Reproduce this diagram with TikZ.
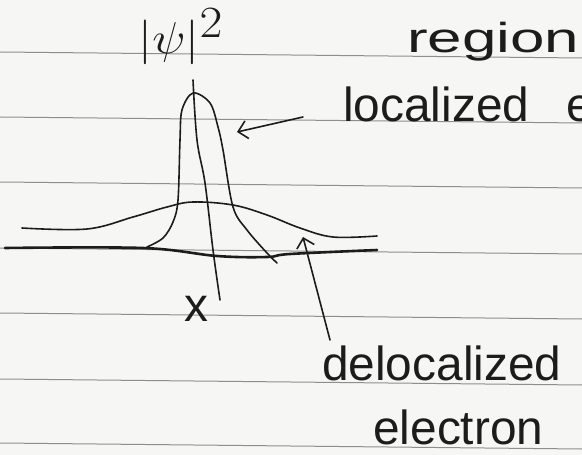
\documentclass[tikz,border=0pt]{standalone}
\usepackage{fontspec}
\setmainfont{Liberation Sans}
\usepackage{amsmath}
\usetikzlibrary{arrows.meta, positioning}
\definecolor{ink}{HTML}{1C1C1C}
\definecolor{paper}{HTML}{F6F6F4}
\definecolor{ruling}{HTML}{8E8E8E}

\tikzset{
  hand/.style={anchor=base west, inner sep=0pt, text=ink},
  curve/.style={draw=ink, line width=1.6bp, line cap=round, line join=round}
}

\begin{document}
\begin{tikzpicture}[x=1bp, y=-1bp, >={Straight Barb[length=9bp, width=18bp]}, font=\fontsize{48}{52}\selectfont]
  % paper and ruled lines
  \useasboundingbox (0,0) rectangle (582,455);
  \clip (0,0) rectangle (582,455);
  \fill[paper] (0,0) rectangle (582,455);
  \foreach \y in {52,117,182,248,313,379,443}
    \draw[ruling, line width=1bp] (0,\y) -- (582,\y+6);

  % labels
  \node[inner sep=0pt, text=ink] (psi) at (181,37) {\scalebox{2}[1.8]{$|\psi|^2$}};
  \node[hand, font=\fontsize{42}{46}\selectfont] (region) at (407,53) {\scalebox{1.48}[1]{region}};
  \node[hand] (loc) at (343,122) {localized\hspace{37bp}e};
  \node[hand] (deloc) at (322,380) {delocalized};
  \node[hand] (elec) at (373,444) {electron};
  \node[inner sep=0pt, anchor=base, text=ink] (xpos) at (196,321) {x};

  % axis
  \draw[curve, line width=2.6bp] plot[smooth, tension=0.6] coordinates
    {(5,248) (143,248) (217,256) (267,257) (290,254) (377,250)};

  % delocalized electron
  \draw[curve] plot[smooth, tension=0.6] coordinates
    {(22,228) (87,229) (133,217) (167,207) (193,202) (233,205) (267,215) (300,228) (333,237) (377,236)};

  % localized electron
  \draw[curve] plot[smooth, tension=0.55] coordinates
    {(147,247) (163,238) (173,222) (178,200) (180,140) (182,110) (193,93) (210,103) (218,127) (223,150) (233,207) (247,230) (267,253) (277,263)};

  % position marker
  \draw[curve] plot[smooth, tension=0.6] coordinates
    {(193,80) (197,140) (205,183) (213,250) (220,300)};

  % arrows
  \coordinate (loctail) at (303,117);
  \coordinate (lochead) at (237,132);
  \coordinate (deloctail) at (330,340);
  \coordinate (delochead) at (303,237);
  \draw[curve, ->] (loctail) -- (lochead);
  \draw[curve, ->] (deloctail) -- (delochead);
\end{tikzpicture}
\end{document}
